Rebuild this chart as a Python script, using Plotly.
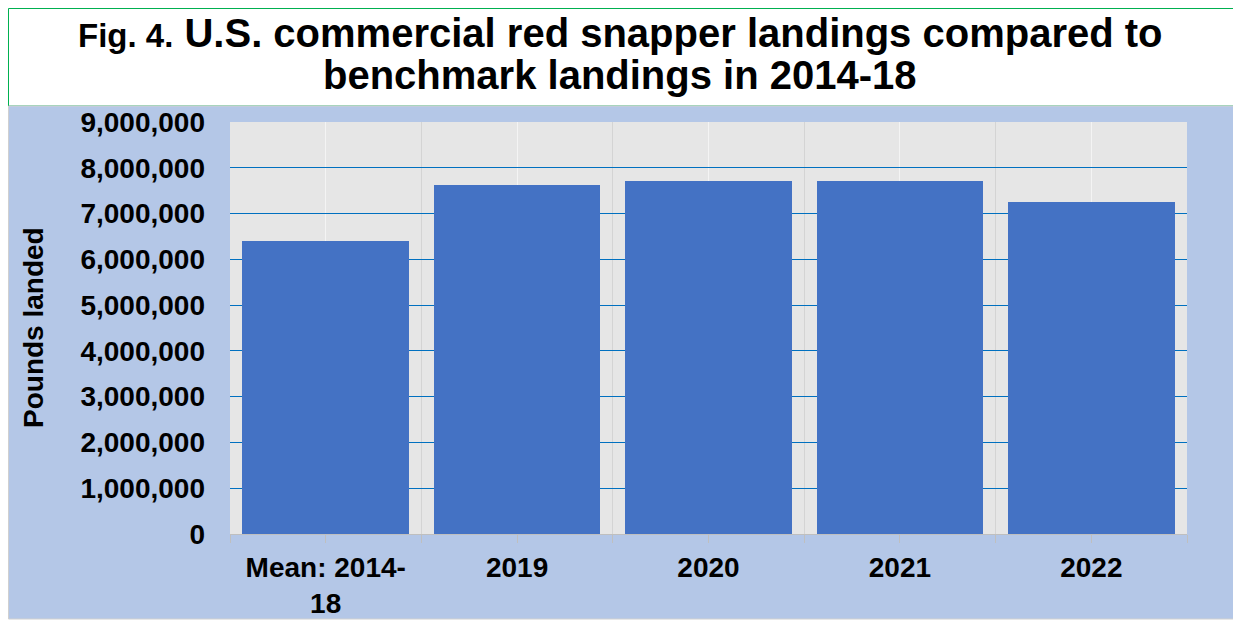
import plotly.graph_objects as go

# ---- data ----
categories = ["Mean: 2014-<br>18", "2019", "2020", "2021", "2022"]
pounds_landed = [6400000, 7630000, 7720000, 7720000, 7260000]
y_ticks = [0, 1000000, 2000000, 3000000, 4000000, 5000000, 6000000, 7000000, 8000000, 9000000]

title_small = "Fig. 4."
title_line1 = "U.S. commercial red snapper landings compared to"
title_line2 = "benchmark landings in 2014-18"
y_title = "Pounds landed"

FONT = "Liberation Sans, Arial, sans-serif"
OFF = 8  # page body margin
W, H = 1241 - OFF, 623 - OFF
L, R, T, B = 230 - OFF, 54, 122 - OFF, 89
pw, ph = W - L - R, H - T - B


def px_x(p):
    # p in page pixels
    return (p - OFF - L) / pw


def px_y(p):
    return (H - B - (p - OFF)) / ph


x_pos = list(range(len(categories)))

fig = go.Figure()
fig.add_trace(go.Bar(
    x=x_pos, y=pounds_landed, width=0.87,
    marker=dict(color="#4472C4", line=dict(width=0)),
    hovertemplate="%{y:,}<extra></extra>",
))

shapes = [
    # title box
    dict(type="rect", xref="paper", yref="paper", layer="below",
         x0=px_x(8.5), x1=px_x(1235), y0=px_y(106), y1=px_y(8.5),
         fillcolor="white", line=dict(color="#00B050", width=1)),
    # chart area
    dict(type="rect", xref="paper", yref="paper", layer="below",
         x0=px_x(8.5), x1=px_x(1235), y0=px_y(619), y1=px_y(106),
         fillcolor="#B4C7E7", line=dict(color="#D0D0D0", width=1)),
    # plot area
    dict(type="rect", xref="paper", yref="paper", layer="below",
         x0=0, x1=1, y0=0, y1=1,
         fillcolor="#E6E6E6", line=dict(width=0)),
]

annotations = [
    dict(text=f"<b><span style='font-size:33px'>{title_small}</span> {title_line1}</b>",
         xref="paper", yref="paper", x=px_x(620), y=px_y(33),
         xanchor="center", yanchor="middle", showarrow=False,
         font=dict(family=FONT, size=40, color="black")),
    dict(text=f"<b>{title_line2}</b>",
         xref="paper", yref="paper", x=px_x(620), y=px_y(75),
         xanchor="center", yanchor="middle", showarrow=False,
         font=dict(family=FONT, size=40, color="black")),
    dict(text=f"<b>{y_title}</b>", textangle=-90,
         xref="paper", yref="paper", x=px_x(33), y=px_y(328),
         xanchor="center", yanchor="middle", showarrow=False,
         font=dict(family=FONT, size=28, color="black")),
]

fig.update_layout(
    width=W, height=H, autosize=False,
    margin=dict(l=L, r=R, t=T, b=B, pad=0),
    paper_bgcolor="white",
    plot_bgcolor="rgba(0,0,0,0)",
    showlegend=False,
    bargap=0,
    shapes=shapes,
    annotations=annotations,
    font=dict(family=FONT, color="black"),
)

fig.update_xaxes(
    range=[-0.5, len(categories) - 0.5],
    tickmode="array", tickvals=x_pos, ticktext=categories,
    tickfont=dict(family=FONT, size=28, color="black", weight="bold"),
    showgrid=True, gridcolor="#F4F4F4", gridwidth=1,
    ticks="outside", ticklen=8, tickcolor="#BFBFBF", tickwidth=1,
    minor=dict(tick0=-0.5, dtick=1, showgrid=True, gridcolor="#D4D4D4", gridwidth=1,
               ticks="outside", ticklen=8, tickcolor="#BFBFBF", tickwidth=1),
    showline=True, linecolor="#BFBFBF", linewidth=1,
    zeroline=False, fixedrange=True, automargin=False,
    ticklabelstandoff=0,
)

fig.update_yaxes(
    range=[0, 9000000],
    tickmode="array", tickvals=y_ticks, tickformat=",d",
    tickfont=dict(family=FONT, size=28, color="black", weight="bold"),
    showgrid=True, gridcolor="#0070C0", gridwidth=1,
    ticks="", zeroline=False, showline=False, fixedrange=True, automargin=False,
    ticklabelstandoff=24,
)

fig.write_html("out.html")
